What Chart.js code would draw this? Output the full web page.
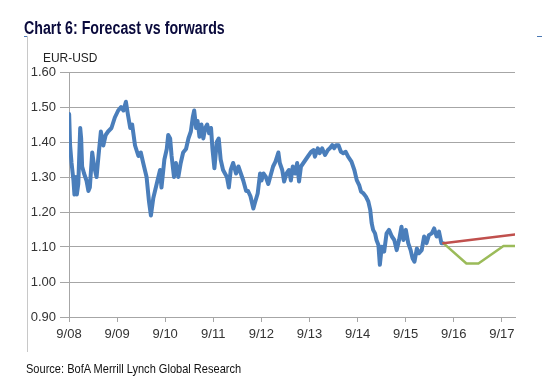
<!DOCTYPE html>
<html>
<head>
<meta charset="utf-8">
<script src="https://cdn.jsdelivr.net/npm/chart.js@4/dist/chart.umd.min.js"></script>
<style>
  html, body { margin: 0; padding: 0; background: #fff; }
  #wrap { position: relative; width: 556px; height: 388px; overflow: hidden; }
  #chart { position: absolute; left: 0; top: 0; }
  .txt { position: absolute; white-space: nowrap; line-height: 1; transform-origin: 0 0; }
  #title { left: 24px; top: 18px; font: bold 18px "Liberation Sans", sans-serif; color: #0a0a3c; transform: scaleX(0.79); }
  #unit { left: 43px; top: 50px; font: 13px "Liberation Sans", sans-serif; color: #222; transform: scaleX(0.92); }
  #source { left: 26px; top: 361px; font: 13px "Liberation Sans", sans-serif; color: #111; transform: scaleX(0.85); }
  .mark { position: absolute; background: #4a78b4; height: 1px; }
  #frame { position: absolute; left: 27px; top: 36px; width: 1px; height: 316px; background: #c8c8c8; }
</style>
</head>
<body>
<div id="wrap">
  <canvas id="chart" width="556" height="388"></canvas>
  <div class="txt" id="title">Chart 6: Forecast vs forwards</div>
  <div class="txt" id="unit">EUR-USD</div>
  <div class="txt" id="source">Source: BofA Merrill Lynch Global Research</div>
  <div class="mark" style="left:24px;top:36px;width:4px"></div>
  <div class="mark" style="left:537px;top:36px;width:5px"></div>
  <div id="frame"></div>
</div>
<script>
// x values are decimal years (Sep 2008 = 2008.667)
const spotDates = [
  2008.67, 2008.69, 2008.72, 2008.76, 2008.78, 2008.81, 2008.83, 2008.86, 2008.90, 2008.92,
  2008.94, 2008.98, 2009.03, 2009.07, 2009.10, 2009.15, 2009.19, 2009.24, 2009.28, 2009.33,
  2009.38, 2009.43, 2009.48, 2009.55, 2009.62, 2009.69, 2009.75, 2009.80, 2009.85, 2009.89,
  2009.94, 2009.98, 2010.04, 2010.11, 2010.16, 2010.21, 2010.28, 2010.33, 2010.37, 2010.42,
  2010.49, 2010.56, 2010.59, 2010.65, 2010.70, 2010.73, 2010.77, 2010.80, 2010.85, 2010.89,
  2010.94, 2010.99, 2011.04, 2011.10, 2011.15, 2011.20, 2011.24, 2011.27, 2011.31, 2011.34,
  2011.38, 2011.42, 2011.46, 2011.50, 2011.54, 2011.58, 2011.62, 2011.65, 2011.69, 2011.74,
  2011.78, 2011.82, 2011.87, 2011.95, 2011.99, 2012.03, 2012.08, 2012.14, 2012.19, 2012.24,
  2012.29, 2012.35, 2012.39, 2012.44, 2012.50, 2012.53, 2012.59, 2012.64, 2012.67, 2012.71,
  2012.76, 2012.81, 2012.87, 2012.91, 2012.96, 2013.02, 2013.05, 2013.10, 2013.14, 2013.19,
  2013.24, 2013.28, 2013.32, 2013.37, 2013.41, 2013.45, 2013.49, 2013.54, 2013.59, 2013.64,
  2013.70, 2013.75, 2013.78, 2013.84, 2013.88, 2013.93, 2013.99, 2014.05, 2014.09, 2014.14,
  2014.18, 2014.22, 2014.27, 2014.32, 2014.37, 2014.42, 2014.47, 2014.54, 2014.60, 2014.65,
  2014.70, 2014.74, 2014.79, 2014.84, 2014.89, 2014.93, 2014.96, 2014.99, 2015.03, 2015.06,
  2015.10, 2015.13, 2015.17, 2015.22, 2015.27, 2015.32, 2015.38, 2015.43, 2015.48, 2015.53,
  2015.58, 2015.62, 2015.67, 2015.72, 2015.77, 2015.81, 2015.85, 2015.90, 2015.94, 2016.00,
  2016.05, 2016.10, 2016.15, 2016.21, 2016.26, 2016.31, 2016.36, 2016.41, 2016.45
];
const spotValues = [
  1.48, 1.39, 1.34, 1.29, 1.25, 1.30, 1.25, 1.28, 1.44, 1.41,
  1.33, 1.31, 1.29, 1.26, 1.27, 1.37, 1.33, 1.30, 1.36, 1.43,
  1.39, 1.42, 1.43, 1.44, 1.47, 1.49, 1.50, 1.49, 1.515, 1.48,
  1.44, 1.45, 1.39, 1.36, 1.37, 1.34, 1.30, 1.23, 1.19, 1.24,
  1.28, 1.32, 1.27, 1.35, 1.38, 1.42, 1.41, 1.36, 1.30, 1.34,
  1.30, 1.34, 1.37, 1.38, 1.41, 1.43, 1.47, 1.49, 1.44, 1.46,
  1.415, 1.45, 1.41, 1.44, 1.45, 1.425, 1.44, 1.38, 1.325, 1.40,
  1.41, 1.35, 1.32, 1.30, 1.27, 1.32, 1.34, 1.31, 1.33, 1.31,
  1.29, 1.26, 1.26, 1.245, 1.21, 1.225, 1.253, 1.31, 1.29, 1.31,
  1.30, 1.28, 1.31, 1.33, 1.344, 1.37, 1.34, 1.32, 1.287, 1.31,
  1.32, 1.29, 1.33, 1.31, 1.34, 1.287, 1.33, 1.34, 1.35, 1.36,
  1.372, 1.377, 1.358, 1.382, 1.368, 1.382, 1.363, 1.377, 1.382, 1.391,
  1.382, 1.391, 1.391, 1.372, 1.368, 1.372, 1.358, 1.344, 1.32, 1.291,
  1.277, 1.258, 1.253, 1.244, 1.23, 1.206, 1.168, 1.149, 1.139, 1.12,
  1.106, 1.049, 1.101, 1.087, 1.139, 1.149, 1.13, 1.12, 1.091, 1.12,
  1.158, 1.12, 1.149, 1.111, 1.091, 1.068, 1.058, 1.096, 1.082, 1.091,
  1.13, 1.111, 1.134, 1.139, 1.153, 1.13, 1.144, 1.111, 1.111
];
const forwardDates = [2016.45, 2017.94];
const forwardValues = [1.111, 1.136];
const forecastDates = [2016.45, 2016.93, 2017.18, 2017.70, 2017.94];
const forecastValues = [1.111, 1.053, 1.053, 1.103, 1.103];
const tickYears = [2008.667, 2009.667, 2010.667, 2011.667, 2012.667, 2013.667, 2014.667, 2015.667, 2016.667, 2017.667];
const tickLabels = ['9/08', '9/09', '9/10', '9/11', '9/12', '9/13', '9/14', '9/15', '9/16', '9/17'];

const toPoints = (xs, ys) => xs.map((x, i) => ({ x: x, y: ys[i] }));

const ctx = document.getElementById('chart').getContext('2d');
const fontFamily = '"Liberation Sans", sans-serif';

new Chart(ctx, {
  type: 'line',
  data: {
    datasets: [
      { label: 'Forwards', data: toPoints(forwardDates, forwardValues), borderColor: '#c0504d', borderWidth: 2.5 },
      { label: 'Forecast', data: toPoints(forecastDates, forecastValues), borderColor: '#9bbb59', borderWidth: 2.5 },
      { label: 'EUR-USD', data: toPoints(spotDates, spotValues), borderColor: '#4a7ebb', borderWidth: 4 }
    ]
  },
  options: {
    responsive: false,
    animation: false,
    elements: { point: { radius: 0 }, line: { tension: 0, borderJoinStyle: 'round', borderCapStyle: 'round' } },
    layout: { padding: { left: 20, top: 72, right: 41, bottom: 0 } },
    plugins: { legend: { display: false }, tooltip: { enabled: false } },
    scales: {
      x: {
        type: 'linear',
        min: 2008.667,
        max: 2017.94,
        afterBuildTicks: (scale) => { scale.ticks = tickYears.map(v => ({ value: v })); },
        afterFit: (scale) => { scale.height = 388 - 317; },
        ticks: {
          autoSkip: false,
          maxRotation: 0,
          padding: 5,
          color: '#333',
          font: { family: fontFamily, size: 13 },
          callback: (value, index) => tickLabels[index]
        },
        grid: { drawOnChartArea: false, drawTicks: true, tickLength: 5, color: '#a6a6a6' },
        border: { color: '#a6a6a6' }
      },
      y: {
        min: 0.9,
        max: 1.6,
        afterFit: (scale) => { scale.width = 69 - 20; },
        ticks: {
          stepSize: 0.1,
          padding: 4,
          color: '#333',
          font: { family: fontFamily, size: 13 },
          callback: (value) => value.toFixed(2)
        },
        grid: { color: '#a6a6a6', tickLength: 9, lineWidth: 1 },
        border: { color: '#a6a6a6' }
      }
    }
  }
});
</script>
</body>
</html>
